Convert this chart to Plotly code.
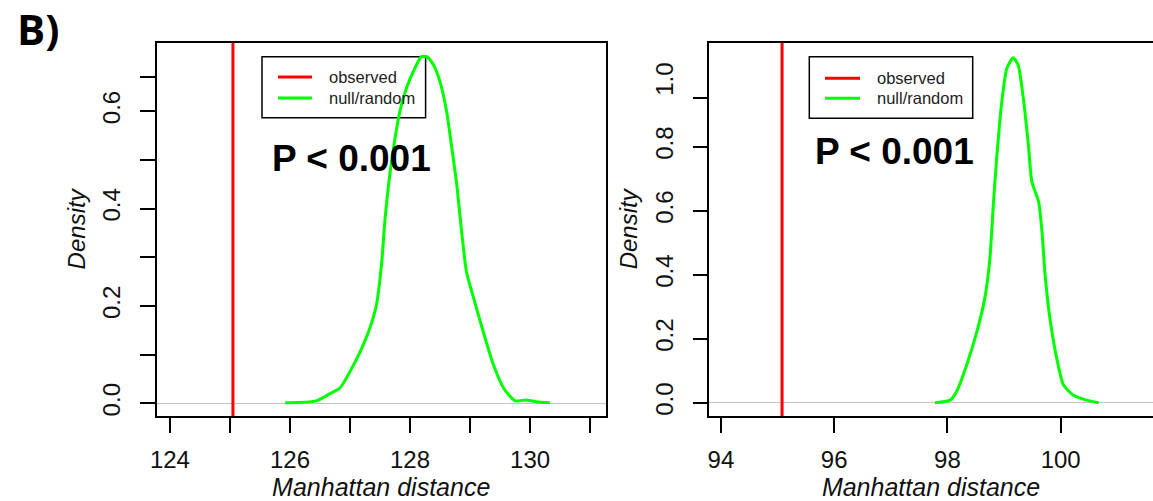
import plotly.graph_objects as go

W, H = 1153, 501

# ---------------- data ----------------
left_obs = 125.05
left_x = [125.92, 126.44, 126.67, 126.83, 127.0, 127.17, 127.33, 127.44, 127.53, 127.58,
          127.67, 127.75, 127.83, 127.94, 128.08, 128.19, 128.28, 128.39, 128.5, 128.61,
          128.69, 128.78, 128.86, 128.94, 129.06, 129.22, 129.39, 129.56, 129.75, 129.94,
          130.11, 130.33]
left_y = [0.001, 0.005, 0.02, 0.031, 0.065, 0.106, 0.154, 0.202, 0.291, 0.373,
          0.476, 0.544, 0.599, 0.647, 0.688, 0.712, 0.712, 0.695, 0.660, 0.599,
          0.530, 0.448, 0.352, 0.270, 0.216, 0.147, 0.079, 0.031, 0.005, 0.007,
          0.003, 0.001]

right_obs = 95.08
right_x = [97.78, 98.05, 98.16, 98.34, 98.52, 98.66, 98.75, 98.81, 98.87, 98.96,
           99.05, 99.16, 99.25, 99.34, 99.43, 99.49, 99.61, 99.67, 99.72, 99.81,
           99.93, 100.05, 100.22, 100.46, 100.67]
right_y = [0.0, 0.008, 0.034, 0.118, 0.222, 0.326, 0.451, 0.618, 0.764, 0.941,
           1.045, 1.078, 1.055, 0.951, 0.805, 0.691, 0.628, 0.534, 0.409, 0.264,
           0.139, 0.055, 0.024, 0.008, 0.0]

left_xticks = [124, 125, 126, 127, 128, 129, 130, 131]
left_xlabels = ["124", "", "126", "", "128", "", "130", ""]
left_yticks = [0.0, 0.1, 0.2, 0.3, 0.4, 0.5, 0.6, 0.671]
left_ylabels = ["0.0", "", "0.2", "", "0.4", "", "0.6", ""]

right_xticks = [94, 96, 98, 100]
right_xlabels = ["94", "96", "98", "100"]
right_ylabel_vals = [0.0, 0.2, 0.4, 0.6, 0.8, 1.0]
right_ylabels = ["0.0", "0.2", "0.4", "0.6", "0.8", "1.0"]
right_ymarks = [0.0, 0.2, 0.4, 0.6, 0.8, 0.953]

legend_labels = ["observed", "null/random"]
p_text = "P &lt; 0.001"
x_title = "Manhattan distance"
y_title = "Density"
panel_tag = "B)"

OBS_COLOR = "#ff0000"
NULL_COLOR = "#00ff00"
FONT = "Liberation Sans, Arial, Helvetica, sans-serif"


def px(x):
    return x / W


def py(y):
    return 1 - y / H


fig = go.Figure()

fig.add_trace(go.Scatter(x=left_x, y=left_y, mode="lines", xaxis="x", yaxis="y",
                         line=dict(color=NULL_COLOR, width=3, shape="spline", smoothing=0.6),
                         showlegend=False, hoverinfo="skip"))
fig.add_trace(go.Scatter(x=right_x, y=right_y, mode="lines", xaxis="x2", yaxis="y2",
                         line=dict(color=NULL_COLOR, width=3, shape="spline", smoothing=0.6),
                         showlegend=False, hoverinfo="skip"))
# dummy trace so that the overlay axis (tick marks) is drawn
fig.add_trace(go.Scatter(x=[None], y=[None], xaxis="x2", yaxis="y3", mode="lines",
                         showlegend=False, hoverinfo="skip"))

fig.add_shape(type="line", xref="x", yref="y domain", x0=left_obs, x1=left_obs, y0=0, y1=1,
              line=dict(color=OBS_COLOR, width=3), layer="above")
fig.add_shape(type="line", xref="x2", yref="y2 domain", x0=right_obs, x1=right_obs, y0=0, y1=1,
              line=dict(color=OBS_COLOR, width=3), layer="above")

ydom = [py(416), py(42.7)]
common_axis = dict(showline=True, linecolor="black", linewidth=1.5, ticks="outside",
                   ticklen=15, tickwidth=1.5, tickcolor="black", showgrid=False,
                   automargin=False,
                   tickfont=dict(family=FONT, size=24, color="#111"))
xstand = 6
ystand = 10

fig.update_layout(
    width=W, height=H, autosize=False,
    margin=dict(l=0, r=0, t=0, b=0),
    paper_bgcolor="white", plot_bgcolor="white",
    showlegend=False,
    xaxis=dict(domain=[px(156.7), px(605.7)], range=[123.78, 131.26], anchor="y",
               tickmode="array", tickvals=left_xticks, ticktext=left_xlabels,
               mirror=True, zeroline=False, ticklabelstandoff=xstand,
               title=dict(text="<i>" + x_title + "</i>", font=dict(family=FONT, size=25, color="#111"),
                          standoff=4),
               **common_axis),
    yaxis=dict(domain=ydom, range=[-0.0261, 0.7405], anchor="x",
               tickmode="array", tickvals=left_yticks, ticktext=left_ylabels,
               tickangle=-90, mirror=True, ticklabelstandoff=ystand,
               zeroline=True, zerolinecolor="#c4c4c4", zerolinewidth=1.2,
               title=dict(text="<i>" + y_title + "</i>", font=dict(family=FONT, size=24, color="#111"),
                          standoff=6),
               **common_axis),
    xaxis2=dict(domain=[px(709), 1.0], range=[93.79, 101.63], anchor="y2",
                tickmode="array", tickvals=right_xticks, ticktext=right_xlabels,
                mirror=True, zeroline=False, ticklabelstandoff=xstand,
                title=dict(text="<i>" + x_title + "</i>", font=dict(family=FONT, size=25, color="#111"),
                           standoff=4),
                **common_axis),
    yaxis2=dict(domain=ydom, range=[-0.0416, 1.125], anchor="x2",
                tickmode="array", tickvals=right_ylabel_vals, ticktext=right_ylabels,
                tickangle=-90, mirror=False, ticklabelstandoff=ystand,
                zeroline=True, zerolinecolor="#c4c4c4", zerolinewidth=1.2,
                title=dict(text="<i>" + y_title + "</i>", font=dict(family=FONT, size=24, color="#111"),
                           standoff=6),
                **{**common_axis, "tickcolor": "rgba(0,0,0,0)"}),
    yaxis3=dict(overlaying="y2", range=[-0.0416, 1.125], anchor="x2",
                tickmode="array", tickvals=right_ymarks, showticklabels=False,
                ticks="outside", ticklen=15, tickwidth=1.5, tickcolor="black",
                showline=False, showgrid=False, zeroline=False, automargin=False),
)

annotations = []
shapes = []
# panel tag
annotations.append(dict(text="<b>" + panel_tag + "</b>", x=px(38), y=py(29), xref="paper", yref="paper",
                        xanchor="center", yanchor="middle", showarrow=False,
                        font=dict(family="Open Sans", size=42, color="black")))

panels = [
    dict(box=(262, 56.7, 425.6, 117.7), line_x=(278, 312), text_x=327, rows=(77, 98), p=(269.8, 159)),
    dict(box=(809.3, 56.7, 972.7, 118.3), line_x=(825, 860), text_x=875, rows=(78.3, 98.3), p=(812.7, 151.7)),
]
for pn in panels:
    x0, y0, x1, y1 = pn["box"]
    shapes.append(dict(type="rect", xref="paper", yref="paper", x0=px(x0), x1=px(x1), y0=py(y0), y1=py(y1),
                       line=dict(color="black", width=1.5), layer="below"))
    for lab, col, ry in zip(legend_labels, [OBS_COLOR, NULL_COLOR], pn["rows"]):
        shapes.append(dict(type="line", xref="paper", yref="paper", x0=px(pn["line_x"][0]), x1=px(pn["line_x"][1]),
                           y0=py(ry), y1=py(ry), line=dict(color=col, width=3), layer="below"))
        annotations.append(dict(text=lab, x=px(pn["text_x"]), y=py(ry), xref="paper", yref="paper",
                                xanchor="left", yanchor="middle", showarrow=False,
                                font=dict(family=FONT, size=16.5, color="#222")))
    annotations.append(dict(text="<b>" + p_text + "</b>", x=px(pn["p"][0]), y=py(pn["p"][1]),
                            xref="paper", yref="paper", xanchor="left", yanchor="middle", showarrow=False,
                            font=dict(family=FONT, size=37, color="black")))

for s in shapes:
    fig.add_shape(**s)
fig.update_layout(annotations=annotations)

fig.write_html("out.html", config={"displayModeBar": False},
               post_script="document.body.style.margin='0px';document.body.style.overflow='hidden';")
